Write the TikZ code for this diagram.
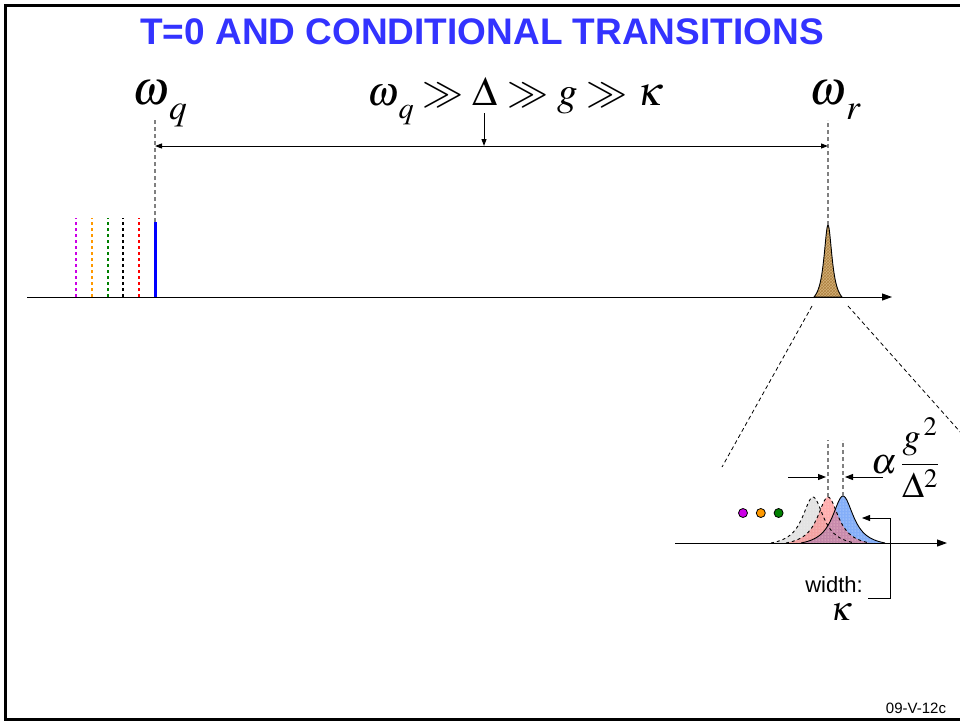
\documentclass[tikz,border=0pt]{standalone}
\usepackage{amsmath}
\usepackage{mathptmx}
\usepackage[no-math]{fontspec}
\setmainfont{Liberation Sans}
\usepackage{tikz}
\usetikzlibrary{positioning, arrows.meta, patterns}
\definecolor{titleblue}{RGB}{51,51,255}
\definecolor{peaktan}{RGB}{212,178,122}
\definecolor{peakbrown}{RGB}{175,130,65}
\definecolor{lvmagenta}{RGB}{204,0,230}
\definecolor{lvorange}{RGB}{255,153,0}
\definecolor{lvgreen}{RGB}{0,128,0}
\definecolor{shiftgrey}{RGB}{215,215,215}
\definecolor{shiftred}{RGB}{255,110,110}
\definecolor{shiftblue}{RGB}{80,140,245}
\newcommand{\fsz}[1]{\fontsize{#1}{#1}\selectfont}
\newcommand{\lowsub}[2]{#1\raisebox{-0.32em}{$\scriptstyle #2$}}
\tikzset{
  frame/.style   ={line width=3pt},
  title/.style   ={font=\fsz{37}\bfseries, text=titleblue},
  axis/.style    ={-{Triangle[length=10pt,width=7pt]}, line width=1pt},
  guide/.style   ={gray, dash pattern=on 4pt off 3pt, line width=1.2pt},
  zoomline/.style={dash pattern=on 4pt off 3pt, line width=0.8pt},
  level/.style   ={line width=2.6pt, dash pattern=on 2.6pt off 3.4pt},
  tip/.style     ={-{Triangle[length=8pt,width=6pt]}, line width=1pt},
  twotip/.style  ={{Triangle[length=7pt,width=5pt]}-{Triangle[length=7pt,width=5pt]}, line width=1pt},
  freq/.style    ={font=\fsz{48}, inner sep=0pt},
  lbl/.style     ={font=\fsz{22}, inner sep=0pt},
  peak/.style    ={line width=0.9pt, fill opacity=0.7,
                   postaction={pattern=dots, pattern color=white}},
  state/.style   ={circle, draw, line width=0.8pt, minimum size=9pt, inner sep=0pt},
}

\begin{document}
\begin{tikzpicture}[x=1pt, y=-1pt]
  \useasboundingbox (0,0) rectangle (960,723);
  \draw[frame] (975,5) -- (5,5) -- (5,719.5) -- (975,719.5);

  \node[title] (T) at (482,32) {T=0 AND CONDITIONAL TRANSITIONS};

  % frequency axis
  \coordinate (ax0) at (27,297);
  \coordinate (ax1) at (892,297);
  \draw[axis] (ax0) -- (ax1);

  % qubit lines
  \coordinate (wq) at (155,297);
  \coordinate (wqtop) at (155,222);
  \foreach \c/\x in {lvmagenta/76, lvorange/92, lvgreen/108, black/123, red/139}
    \draw[level, \c] (\x,297) -- (\x,218);
  \draw[blue, line width=3pt] (wq) -- (wqtop);
  \node[freq, anchor=base west] (Lq) at (132,104) {$\lowsub{\omega}{q}$};
  \draw[guide] (wqtop) -- (155,120);

  % resonator peak
  \coordinate (wr) at (828,297);
  \coordinate (wrtop) at (828,225);
  \draw[line width=0.9pt, preaction={fill=peaktan},
        pattern=crosshatch, pattern color=peakbrown]
    plot[domain=-14:14, samples=61] ({828+\x},{297-72*(1/(1+(\x/5)^2)-0.113)/(1-0.113)}) -- cycle;
  \node[freq, anchor=base west] (Lr) at (809,104) {$\lowsub{\omega}{r}$};
  \draw[guide] (wrtop) -- (828,120);

  % hierarchy of scales
  \node[freq, font=\fsz{41}, anchor=base] (H) at (515,105)
    {$\lowsub{\omega}{q} \gg \Delta \gg g \gg \kappa$};
  \coordinate (dq) at (155,146);
  \coordinate (dr) at (828,146);
  \draw[twotip] (dq) -- (dr);
  \coordinate (hd) at (484,113);
  \draw[-{Triangle[length=7pt,width=5pt]}, line width=1pt] (hd) -- (484,146);

  % zoom lines
  \coordinate (zl0) at (812,306);
  \coordinate (zl1) at (722,467);
  \coordinate (zr0) at (848,306);
  \coordinate (zr1) at (962,434);
  \draw[zoomline] (zl0) -- (zl1);
  \draw[zoomline] (zr0) -- (zr1);

  % inset
  \coordinate (ix0) at (675,543);
  \coordinate (ix1) at (947,543);
  \fill[shiftgrey, peak]
    plot[domain=-42:42, samples=85] ({813+\x},{543-46*(1/(1+(\x/13)^2)-0.087)/(1-0.087)}) -- cycle;
  \fill[shiftblue, peak]
    plot[domain=-42:42, samples=85] ({843+\x},{543-47*(1/(1+(\x/13)^2)-0.087)/(1-0.087)}) -- cycle;
  \fill[shiftred, peak, fill opacity=0.55]
    plot[domain=-42:42, samples=85] ({828+\x},{543-46*(1/(1+(\x/13)^2)-0.087)/(1-0.087)}) -- cycle;
  \draw[line width=0.9pt, dashed]
    plot[domain=-42:42, samples=85] ({813+\x},{543-46*(1/(1+(\x/13)^2)-0.087)/(1-0.087)});
  \draw[line width=0.9pt, dashed]
    plot[domain=-42:42, samples=85] ({828+\x},{543-46*(1/(1+(\x/13)^2)-0.087)/(1-0.087)});
  \draw[line width=0.9pt]
    plot[domain=-42:42, samples=85] ({843+\x},{543-47*(1/(1+(\x/13)^2)-0.087)/(1-0.087)});
  \draw[axis] (ix0) -- (ix1);

  \coordinate (sr) at (828,497);
  \coordinate (sb) at (843,496);
  \draw[guide] (sr) -- (828,440);
  \draw[guide] (sb) -- (843,440);
  \draw[tip] (788,477) -- (826,477);
  \draw[tip] (883,477) -- (845,477);
  \node[font=\fsz{36}, anchor=west, inner sep=0pt] (shift) at (871,458)
    {$\alpha\,\dfrac{g^{\,2}}{\Delta^{2}}$};

  \node[state, fill=lvmagenta] (s1) at (743,513) {};
  \node[state, fill=lvorange, right=8pt of s1] (s2) {};
  \node[state, fill=lvgreen, right=8pt of s2] (s3) {};

  % width bracket
  \coordinate (wb0) at (868,598);
  \coordinate (wb1) at (862,518);
  \draw[tip, line width=0.8pt] (wb0) -- (890,598) -- (890,518) -- (wb1);
  \node[lbl, anchor=base east] (W) at (863,592) {width:};
  \node[freq, font=\fsz{34}, anchor=base] (K) at (841,620) {$\kappa$};

  \node[font=\fsz{15}] (ref) at (916,708) {09-V-12c};
\end{tikzpicture}
\end{document}
